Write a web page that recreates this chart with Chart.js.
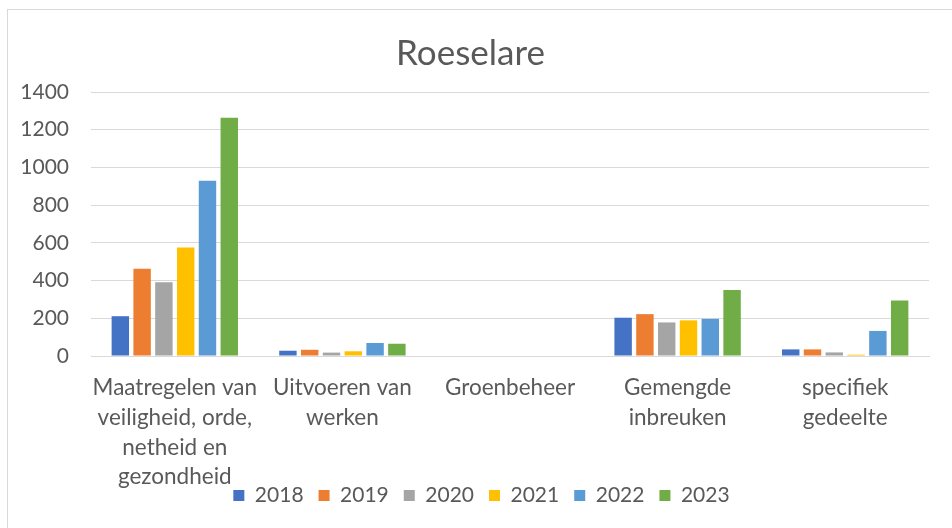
<!DOCTYPE html>
<html lang="nl">
<head>
    <meta charset="UTF-8">
    <title>Roeselare</title>
    <script src="https://cdn.jsdelivr.net/npm/chart.js"></script>
    <style>
        html, body { margin: 0; padding: 0; background: #fff; }
        #wrap { position: relative; width: 952px; height: 528px; overflow: hidden; }
        #frame { position: absolute; left: 7px; top: 9px; width: 960px; height: 540px; border: 1px solid #d9d9d9; box-sizing: border-box; }
        canvas { position: absolute; left: 0; top: 0; }
    </style>
</head>
<body>
    <div id="wrap">
        <div id="frame"></div>
        <canvas id="chart" width="952" height="528"></canvas>
    </div>

    <script>
        // data
        const categories = [
            ['Maatregelen van', 'veiligheid, orde,', 'netheid en', 'gezondheid'],
            ['Uitvoeren van', 'werken'],
            ['Groenbeheer'],
            ['Gemengde', 'inbreuken'],
            ['specifiek', 'gedeelte']
        ];
        const years = ['2018', '2019', '2020', '2021', '2022', '2023'];
        const v2018 = [211, 28, 0, 203, 35];
        const v2019 = [463, 33, 0, 222, 35];
        const v2020 = [391, 18, 0, 178, 19];
        const v2021 = [575, 25, 0, 189, 7];
        const v2022 = [929, 69, 0, 197, 133];
        const v2023 = [1264, 65, 0, 350, 294];
        const yTicks = [0, 200, 400, 600, 800, 1000, 1200, 1400];

        const colors = ['#4472C4', '#ED7D31', '#A5A5A5', '#FFC000', '#5B9BD5', '#70AD47'];
        const series = [v2018, v2019, v2020, v2021, v2022, v2023];
        const textColor = '#595959';
        const fontFamily = 'Lato, "Open Sans", sans-serif';

        // category labels run into the legend band, like in Excel, so no clipping
        // and the legend is nudged a bit to the right
        const layoutTweaks = {
            id: 'layoutTweaks',
            afterLayout(chart) {
                chart.legend.left += 11;
                chart.legend.right += 11;
            },
            beforeDraw(chart) {
                chart.scales.x._computeLabelArea = () => undefined;
            }
        };

        const ctx = document.getElementById('chart').getContext('2d');
        new Chart(ctx, {
            type: 'bar',
            data: {
                labels: categories,
                datasets: series.map((vals, i) => ({
                    label: years[i],
                    data: vals,
                    backgroundColor: colors[i],
                    borderWidth: 0,
                    categoryPercentage: 0.78,
                    barPercentage: 0.8
                }))
            },
            options: {
                responsive: false,
                animation: false,
                layout: { padding: { left: 12, right: 23, top: 0, bottom: 12 } },
                plugins: {
                    title: {
                        display: true,
                        text: 'Roeselare',
                        color: textColor,
                        font: { family: fontFamily, size: 35, weight: 'normal' },
                        padding: { top: 33, bottom: 17 }
                    },
                    legend: {
                        position: 'bottom',
                        labels: {
                            color: textColor,
                            font: { family: fontFamily, size: 21 },
                            boxWidth: 11,
                            boxHeight: 11,
                            padding: 15
                        }
                    },
                    tooltip: { enabled: false }
                },
                scales: {
                    x: {
                        grid: { display: false, drawTicks: false },
                        border: { color: '#d9d9d9', width: 1 },
                        ticks: {
                            color: textColor,
                            font: { family: fontFamily, size: 22.5, lineHeight: 1.32 },
                            padding: 17,
                            maxRotation: 0,
                            autoSkip: false
                        },
                        afterFit: s => { s.height = 114; }
                    },
                    y: {
                        min: 0,
                        max: 1400,
                        afterBuildTicks: s => { s.ticks = yTicks.map(v => ({ value: v })); },
                        grid: { color: '#d9d9d9', lineWidth: 1, drawTicks: false },
                        border: { display: false },
                        ticks: {
                            color: textColor,
                            font: { family: fontFamily, size: 21 },
                            padding: 22,
                            callback: v => String(v)
                        },
                        afterFit: s => { s.width = 79; }
                    }
                }
            },
            plugins: [layoutTweaks]
        });
    </script>
</body>
</html>
